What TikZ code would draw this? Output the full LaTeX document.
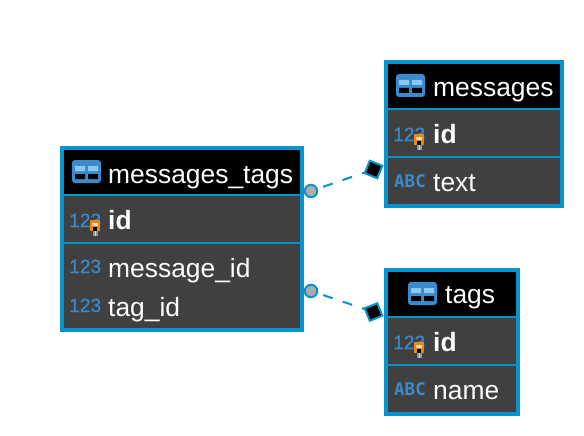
\documentclass[tikz,border=0pt]{standalone}
\usepackage{fontspec}
\setmainfont{Liberation Sans}
\newfontfamily\abcfont{DejaVu Sans Mono}
\newfontfamily\numfont[FakeBold=0.5]{Liberation Sans}
\definecolor{edgeblue}{HTML}{0892D0}
\definecolor{rowgrey}{HTML}{404040}
\definecolor{iconblue}{HTML}{3A8ACC}
\definecolor{panelight}{HTML}{8CC8F0}
\definecolor{capgrey}{HTML}{ABABAB}
\definecolor{keyorange}{HTML}{E8861C}
\definecolor{keycream}{HTML}{F8D8A0}
\definecolor{keygrey}{HTML}{8A97A5}
\tikzset{
  x=1pt,y=-1pt,
  tblframe/.style={draw=edgeblue,line width=4pt,rectangle,inner sep=0pt,outer sep=0pt},
  headrow/.style={fill=black,rectangle,inner sep=0pt,outer sep=0pt},
  bodyrow/.style={fill=rowgrey,rectangle,inner sep=0pt,outer sep=0pt},
  rowsep/.style={edgeblue,line width=2pt},
  tbltext/.style={anchor=base west,inner sep=0pt,text=white,font=\fontsize{26.4}{30}\selectfont},
  pkname/.style={tbltext,font=\fontsize{26.4}{30}\selectfont\bfseries},
  numtype/.style={anchor=base west,inner sep=0pt,text=iconblue,font=\fontsize{19.2}{22}\selectfont\numfont},
  abctype/.style={anchor=base west,inner sep=0pt,text=iconblue,font=\fontsize{17.5}{20}\selectfont\abcfont\bfseries},
  relation/.style={edgeblue,line width=2pt,dash pattern=on 10pt off 10.5pt,dash phase=13.9pt},
  capdot/.style={circle,draw=edgeblue,fill=capgrey,line width=2pt,minimum size=12.5pt,inner sep=0pt,outer sep=0pt},
  capdiamond/.style={rectangle,draw=edgeblue,fill=black,line width=2pt,minimum size=13.5pt,inner sep=0pt,outer sep=0pt},
  tableicon/.pic={
    \fill[iconblue,rounded corners=3pt] (0,0) rectangle (29,23);
    \fill[panelight] (3,6) rectangle (13,11) (16,6) rectangle (26,11);
    \fill[black] (3,14) rectangle (13,19) (16,14) rectangle (26,19);
  },
  keyicon/.pic={
    \fill[keyorange] (0,0) rectangle (10,11);
    \fill[keycream] (2,3) rectangle (8,6);
    \fill[black] (3,7) rectangle (7,11);
    \fill[keygrey] (2.5,11) rectangle (7.5,16);
    \fill[white!60!keygrey] (4.5,11) rectangle (5.5,16);
  }
}
\begin{document}
\begin{tikzpicture}
\useasboundingbox (0,0) rectangle (584,436);
% messages_tags
\node[headrow,minimum width=236pt,minimum height=46pt] (mth) at (182,172) {};
\node[bodyrow,minimum width=236pt,minimum height=48pt] (mtr) at (182,219) {};
\node[bodyrow,minimum width=236pt,minimum height=86pt] (mts) at (182,286) {};
\draw[rowsep] (mth.south west) -- (mth.south east);
\draw[rowsep] (mtr.south west) -- (mtr.south east);
\node[tblframe,minimum width=240pt,minimum height=182pt] (mtf) at (182,239) {};
\pic at (72,160) {tableicon};
\node[tbltext] (mtt) at (108,183) {messages\_tags};
\node[numtype] (mti1) at (69,227) {123};
\pic at (90,220) {keyicon};
\node[pkname] (mtid) at (108,229) {id};
\node[numtype] (mti2) at (69,273) {123};
\node[tbltext] (mtm) at (108,277) {message\_id};
\node[numtype] (mti3) at (69,312) {123};
\node[tbltext] (mtg) at (108,316) {tag\_id};
% messages
\node[headrow,minimum width=172pt,minimum height=46pt] (mh) at (474,86) {};
\node[bodyrow,minimum width=172pt,minimum height=48pt] (mr) at (474,133) {};
\node[bodyrow,minimum width=172pt,minimum height=48pt] (ms) at (474,181) {};
\draw[rowsep] (mh.south west) -- (mh.south east);
\draw[rowsep] (mr.south west) -- (mr.south east);
\node[tblframe,minimum width=176pt,minimum height=144pt] (mf) at (474,134) {};
\pic at (396,74) {tableicon};
\node[tbltext] (mt) at (433,96) {messages};
\node[numtype] (mi1) at (393,141) {123};
\pic at (414,134) {keyicon};
\node[pkname] (mid) at (433,143) {id};
\node[abctype] (mi2) at (394,187) {ABC};
\node[tbltext] (mtx) at (433,191) {text};
% tags
\node[headrow,minimum width=128pt,minimum height=46pt] (th) at (452,294) {};
\node[bodyrow,minimum width=128pt,minimum height=48pt] (tr) at (452,341) {};
\node[bodyrow,minimum width=128pt,minimum height=48pt] (ts) at (452,389) {};
\draw[rowsep] (th.south west) -- (th.south east);
\draw[rowsep] (tr.south west) -- (tr.south east);
\node[tblframe,minimum width=132pt,minimum height=144pt] (tf) at (452,342) {};
\pic at (408,282) {tableicon};
\node[tbltext] (tt) at (445,303) {tags};
\node[numtype] (ti1) at (393,349) {123};
\pic at (414,342) {keyicon};
\node[pkname] (tid) at (433,351) {id};
\node[abctype] (ti2) at (394,395) {ABC};
\node[tbltext] (tn) at (433,399) {name};
% connectors
\node[capdot] (c1) at (311,191) {};
\node[capdot] (c2) at (311,291) {};
\node[capdiamond,rotate=-22] (d1) at (373.5,169.5) {};
\node[capdiamond,rotate=22] (d2) at (373.5,312) {};
\draw[relation] (c1) -- (d1);
\draw[relation] (c2) -- (d2);
\end{tikzpicture}
\end{document}
